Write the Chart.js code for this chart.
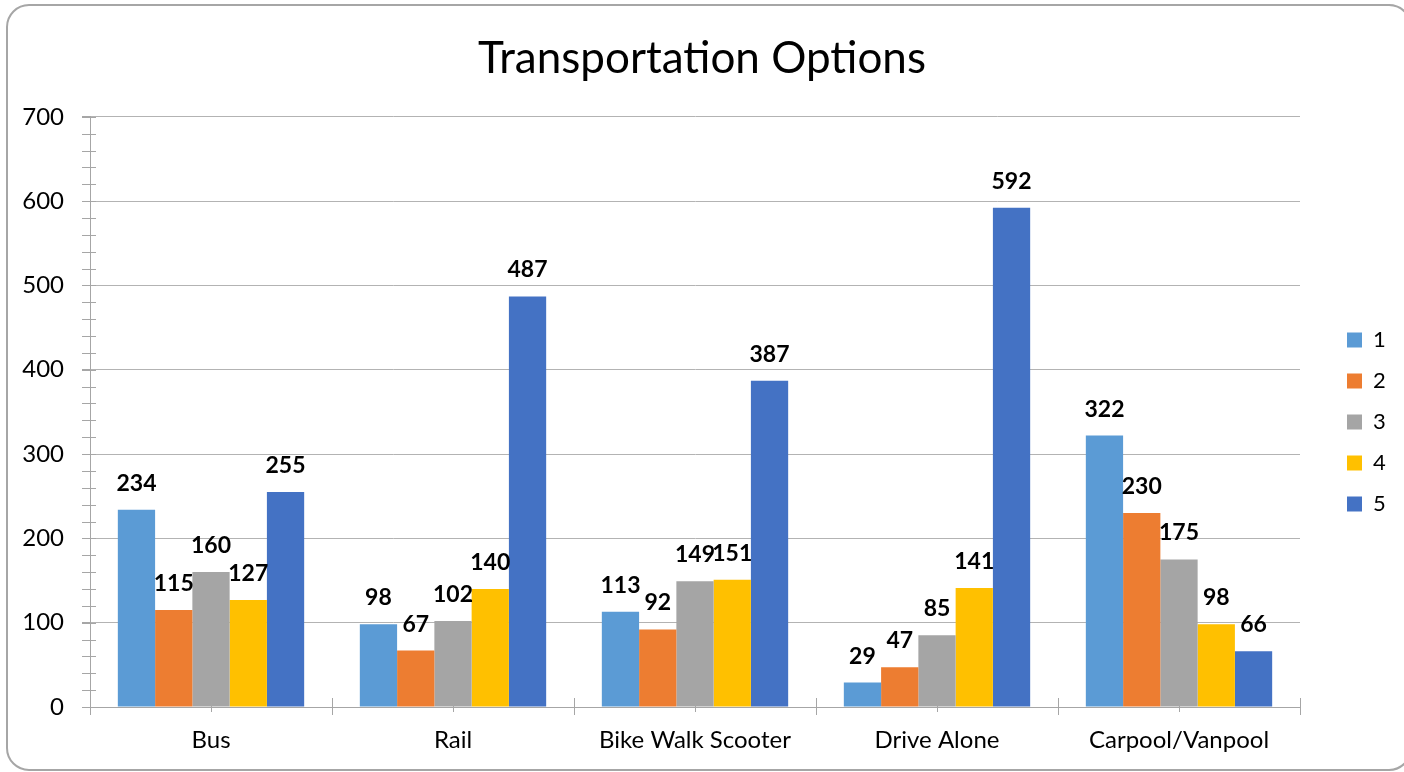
<!DOCTYPE html>
<html lang="en">
<head>
    <meta charset="UTF-8">
    <title>Transportation Options</title>
    <script src="https://cdn.jsdelivr.net/npm/chart.js"></script>
    <style>
        html, body { margin: 0; padding: 0; background: #fff; }
        #wrap { width: 1404px; height: 772px; position: relative; }
    </style>
</head>
<body>
    <div id="wrap"><canvas id="chart"></canvas></div>
    <script>
        const categories = ["Bus", "Rail", "Bike Walk Scooter", "Drive Alone", "Carpool/Vanpool"];
        const seriesNames = ["1", "2", "3", "4", "5"];
        const series1 = [234, 98, 113, 29, 322];
        const series2 = [115, 67, 92, 47, 230];
        const series3 = [160, 102, 149, 85, 175];
        const series4 = [127, 140, 151, 141, 98];
        const series5 = [255, 487, 387, 592, 66];
        const colors = ["#5B9BD5", "#ED7D31", "#A5A5A5", "#FFC000", "#4472C4"];

        const FONT = "Lato, 'Open Sans', sans-serif";
        const AXIS = "#a6a6a6";

        // rounded frame, minor ticks, value labels and legend placement
        const extras = {
            id: "extras",
            beforeLayout(chart) {
                const lg = chart.legend;
                if (lg && !lg._fixed) {
                    const fit = lg.fit;
                    lg.fit = function () {
                        fit.call(this);
                        this.width = 104;
                    };
                    lg._fixed = true;
                }
            },
            afterLayout(chart) {
                const lg = chart.legend;
                if (!lg) return;
                lg.left = 1328;
                lg.right = 1404;
                lg.top = 117;
                lg.bottom = 727;
                lg.height = 610;
            },
            beforeDraw(chart) {
                const ctx = chart.ctx;
                ctx.save();
                ctx.strokeStyle = "#a6a6a6";
                ctx.lineWidth = 2;
                ctx.beginPath();
                ctx.roundRect(7, 5, 1404, 765, 22);
                ctx.stroke();
                ctx.restore();
            },
            afterDatasetsDraw(chart) {
                const ctx = chart.ctx;
                const y = chart.scales.y, x = chart.scales.x;
                ctx.save();
                ctx.strokeStyle = AXIS;
                ctx.lineWidth = 1;
                // y minor ticks
                for (let v = 0; v <= 700; v += 20) {
                    const py = Math.round(y.getPixelForValue(v)) + 0.5;
                    ctx.beginPath();
                    ctx.moveTo(x.left - 8, py);
                    ctx.lineTo(x.left + 6, py);
                    ctx.stroke();
                }
                // x ticks crossing axis
                const step = (x.right - x.left) / categories.length;
                for (let i = 0; i <= categories.length; i++) {
                    const px = Math.round(x.left + i * step) + 0.5;
                    ctx.beginPath();
                    ctx.moveTo(px, y.bottom - 9);
                    ctx.lineTo(px, y.bottom + 8);
                    ctx.stroke();
                    if (i < categories.length) {
                        const cx = Math.round(x.left + (i + 0.5) * step) + 0.5;
                        ctx.beginPath();
                        ctx.moveTo(cx, y.bottom - 6);
                        ctx.lineTo(cx, y.bottom + 5);
                        ctx.stroke();
                    }
                }
                // value labels
                ctx.fillStyle = "#000";
                ctx.font = "bold 23px " + FONT;
                ctx.textAlign = "center";
                ctx.textBaseline = "alphabetic";
                chart.data.datasets.forEach((ds, di) => {
                    chart.getDatasetMeta(di).data.forEach((bar, i) => {
                        ctx.fillText(ds.data[i], bar.x, bar.y - 19);
                    });
                });
                ctx.restore();
            }
        };

        const seriesList = [series1, series2, series3, series4, series5];

        new Chart(document.getElementById("chart"), {
            type: "bar",
            data: {
                labels: categories,
                datasets: seriesList.map((d, i) => ({
                    label: seriesNames[i],
                    data: d,
                    backgroundColor: colors[i],
                    borderWidth: 0,
                    barPercentage: 1,
                    categoryPercentage: 0.77
                }))
            },
            options: {
                responsive: true,
                maintainAspectRatio: false,
                animation: false,
                layout: { padding: 0 },
                plugins: {
                    title: {
                        display: true,
                        text: "Transportation Options",
                        color: "#000",
                        font: { family: FONT, size: 44, weight: "normal" },
                        padding: { top: 32, bottom: 32 }
                    },
                    legend: {
                        position: "right",
                        labels: {
                            color: "#000",
                            font: { family: FONT, size: 22 },
                            boxWidth: 15,
                            boxHeight: 15,
                            padding: 19
                        }
                    },
                    tooltip: { enabled: false }
                },
                scales: {
                    x: {
                        afterFit(scale) { scale.height = 65; },
                        grid: { display: false },
                        border: { color: AXIS, width: 1 },
                        ticks: {
                            color: "#000",
                            font: { family: FONT, size: 24 },
                            padding: 11
                        }
                    },
                    y: {
                        min: 0,
                        max: 700,
                        afterFit(scale) { scale.width = 90; },
                        border: { color: AXIS, width: 1 },
                        grid: { color: "#b3b3b3", tickLength: 8, tickColor: AXIS },
                        ticks: {
                            stepSize: 100,
                            color: "#000",
                            font: { family: FONT, size: 24 },
                            padding: 18
                        }
                    }
                }
            },
            plugins: [extras]
        });
    </script>
</body>
</html>
